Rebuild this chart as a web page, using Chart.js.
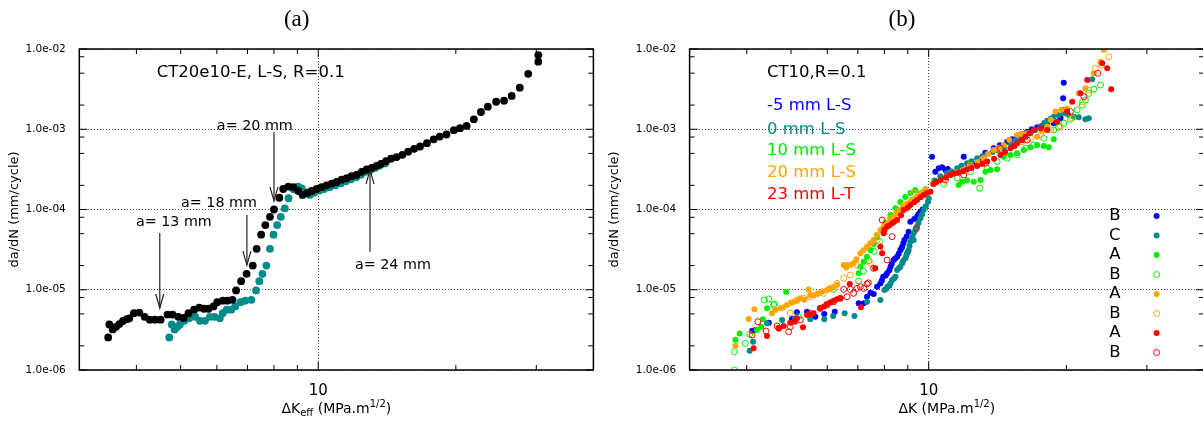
<!DOCTYPE html>
<html>
<head>
<meta charset="utf-8">
<script src="https://cdn.jsdelivr.net/npm/chart.js@4.4.1/dist/chart.umd.min.js"></script>
<style>
  html, body { margin: 0; padding: 0; background: #fff; overflow: hidden; width: 1203px; height: 421px; }
  #ca { position: absolute; left: 0; top: 0; }
  #cb { position: absolute; left: 600px; top: 0; }
</style>
</head>
<body>
<canvas id="ca" width="600" height="421"></canvas>
<canvas id="cb" width="620" height="421"></canvas>
<script>
// axis ticks
const X_TICKS = [10];
const X_MINOR = [4, 5, 6, 7, 8, 9, 20, 30];
const Y_TICKS = [1e-6, 1e-5, 1e-4, 1e-3, 1e-2];
const Y_MINOR = [2, 5, 8];

// panel (a): [dK_eff, da/dN]
const ptsBlack = [[3.47,2.55e-6],[3.49,3.7e-6],[3.55,3.2e-6],[3.61,3.45e-6],[3.67,3.73e-6],[3.74,4.08e-6],[3.81,4.3e-6],[3.86,4.4e-6],
  [3.95,5.1e-6],[4.06,5.2e-6],[4.17,4.6e-6],[4.28,4.24e-6],[4.39,4.24e-6],[4.52,4.24e-6],[4.68,4.9e-6],[4.80,4.9e-6],[4.94,4.6e-6],
  [5.08,4.45e-6],[5.20,5.1e-6],[5.35,5.65e-6],[5.49,6.0e-6],[5.62,5.8e-6],[5.75,5.8e-6],[5.90,6.2e-6],[6.01,7.0e-6],[6.18,7.3e-6],
  [6.33,7.3e-6],[6.49,7.5e-6],[6.61,9.8e-6],[6.78,1.28e-5],[6.97,1.58e-5],[7.19,2.0e-5],[7.33,3.24e-5],[7.50,4.85e-5],[7.66,6.4e-5],
  [7.84,8.1e-5],[8.00,1.0e-4],[8.22,1.4e-4],[8.38,1.8e-4],[8.60,1.93e-4],[8.82,1.9e-4],[9.04,1.7e-4],[9.24,1.52e-4],[9.46,1.6e-4],
  [9.67,1.7e-4],[9.92,1.8e-4],[10.17,1.9e-4],[10.43,2.0e-4],[10.70,2.1e-4],[10.97,2.2e-4],[11.25,2.35e-4],[11.54,2.45e-4],[11.83,2.6e-4],
  [12.13,2.7e-4],[12.44,2.95e-4],[12.76,3.15e-4],[13.09,3.3e-4],[13.42,3.5e-4],[13.72,3.7e-4],[14.07,4.0e-4],[14.43,4.3e-4],[14.84,4.5e-4],
  [15.28,4.8e-4],[15.73,5.25e-4],[16.21,5.7e-4],[16.70,6.1e-4],[17.29,6.7e-4],[17.89,7.5e-4],[18.44,8.1e-4],[19.08,8.6e-4],[19.80,9.75e-4],
  [20.42,1.03e-3],[21.12,1.1e-3],[21.9,1.33e-3],[22.7,1.64e-3],[23.5,1.91e-3],[24.5,2.2e-3],[25.5,2.27e-3],[26.5,2.6e-3],[27.6,3.3e-3],
  [28.8,4.9e-3],[30.3,6.95e-3],[30.3,8.4e-3]];
const ptsTealA = [[4.72,2.55e-6],[4.78,3.7e-6],[4.85,3.2e-6],[4.92,3.45e-6],[4.98,3.7e-6],[5.09,4.1e-6],[5.22,4.4e-6],[5.38,4.6e-6],
  [5.51,4.1e-6],[5.65,4.1e-6],[5.79,4.6e-6],[5.93,4.6e-6],[6.09,4.4e-6],[6.18,5.1e-6],[6.30,5.65e-6],[6.45,5.65e-6],[6.58,6.2e-6],
  [6.76,7.0e-6],[6.92,7.3e-6],[7.14,7.5e-6],[7.31,9.8e-6],[7.43,1.28e-5],[7.55,1.58e-5],[7.70,2.0e-5],[7.84,3.24e-5],[7.98,4.85e-5],
  [8.13,6.4e-5],[8.28,8.1e-5],[8.45,1.03e-4],[8.61,1.38e-4],[8.82,1.8e-4],[9.04,1.93e-4],[9.2,1.83e-4],[9.4,1.63e-4],[9.59,1.52e-4],
  [9.8,1.62e-4],[10.05,1.72e-4],[10.3,1.8e-4],[10.6,1.9e-4],[10.9,2.0e-4],[11.2,2.12e-4],[11.5,2.25e-4],[11.8,2.38e-4],[12.1,2.52e-4],
  [12.4,2.72e-4],[12.7,2.95e-4],[13.0,3.1e-4],[13.3,3.3e-4],[13.6,3.5e-4],[14.0,3.75e-4]];

// panel (b): [dK, da/dN]
const ptsBlue = [[4.11,3.09e-6],[4.18,3.15e-6],[4.47,3.88e-6],[5.02,4.32e-6],[5.15,5.24e-6],[5.42,5.33e-6],[5.65,4.62e-6],[5.91,4.99e-6],
  [6.23,5.33e-6],[7.03,6.78e-6],[7.21,6.78e-6],[7.33,8.19e-6],[7.46,9.18e-6],[7.58,8.85e-6],[7.71,1.09e-5],[7.84,1.2e-5],[7.9,1.3e-5],
  [7.95,1.45e-5],[8.05,1.5e-5],[8.11,1.6e-5],[8.2,1.75e-5],[8.25,1.94e-5],[8.3,2.1e-5],[8.38,2.35e-5],[8.45,2.45e-5],[8.53,2.58e-5],
  [8.6,2.8e-5],[8.67,3.13e-5],[8.72,3.3e-5],[8.75,3.44e-5],[8.8,3.8e-5],[8.85,4.17e-5],[8.95,4.6e-5],[9.04,5.29e-5],[9.12,7.05e-5],
  [9.3,7.6e-5],[9.43,8.13e-5],[9.5,8.7e-5],[9.59,9.4e-5],[9.7,1.0e-4],[10.17,4.55e-4],[10.34,2.96e-4],[10.52,3.26e-4],[10.70,3.36e-4],
  [10.88,3.1e-4],[11.0,3.2e-4],[11.93,4.55e-4],[12.45,3.77e-4],[12.87,3.95e-4],[13.3,5.1e-4],[13.88,5.79e-4],[14.3,6.3e-4],[14.85,7.0e-4],
  [15.2,7.5e-4],[15.61,8.07e-4],[16.0,8.7e-4],[16.42,9.31e-4],[16.8,1.0e-3],[17.27,1.06e-3],[17.7,1.1e-3],[18.16,1.13e-3],
  [18.77,1.19e-3],[19.42,1.37e-3],[19.74,1.74e-3],[19.68,2.43e-3],[19.74,3.8e-3]];
const ptsTeal = [[4.06,1.74e-6],[4.13,2.25e-6],[4.43,3.82e-6],[4.78,4.2e-6],[5.11,4.41e-6],[5.51,4.28e-6],[5.91,4.28e-6],[6.18,4.71e-6],
  [6.55,5.08e-6],[6.88,4.71e-6],[7.33,7.1e-6],[7.84,7.45e-6],[8.00,9.93e-6],[8.08,1.03e-5],[8.13,1.09e-5],[8.2,1.12e-5],[8.25,1.2e-5],
  [8.32,1.32e-5],[8.4,1.38e-5],[8.46,1.45e-5],[8.53,1.76e-5],[8.6,1.85e-5],[8.67,1.94e-5],[8.75,2.14e-5],[8.8,2.3e-5],[8.89,2.47e-5],
  [8.93,2.65e-5],[8.97,2.85e-5],[9.0,2.95e-5],[9.04,3.13e-5],[9.08,3.5e-5],[9.12,3.97e-5],[9.2,4.5e-5],[9.27,4.17e-5],[9.27,5.05e-5],
  [9.35,5.5e-5],[9.43,6.1e-5],[9.5,6.8e-5],[9.59,7.76e-5],[9.67,8.7e-5],[9.75,9.86e-5],[9.85,1.1e-4],[9.97,1.25e-4],[10.0,1.38e-4],
  [10.3,2.3e-4],[10.6,2.6e-4],[10.97,2.83e-4],[11.2,3.0e-4],[11.54,3.26e-4],[11.8,3.5e-4],[12.13,3.77e-4],[12.4,4.0e-4],[12.76,4.35e-4],
  [13.1,4.6e-4],[13.42,4.92e-4],[13.8,5.2e-4],[14.11,5.51e-4],[14.6,6.0e-4],[15.10,6.68e-4],[15.5,7.2e-4],[15.87,7.71e-4],[16.3,8.3e-4],
  [16.70,8.91e-4],[17.1,9.8e-4],[17.56,1.08e-3],[17.9,1.2e-3],[18.16,1.28e-3],[18.5,1.35e-3],[18.77,1.43e-3],[19.2,1.5e-3],
  [19.74,1.58e-3],[20.2,1.52e-3],[20.77,1.43e-3],[21.29,1.41e-3],[22.02,1.33e-3],[22.39,1.37e-3],[22.78,4.19e-3]];
const ptsGreenA = [[3.78,2.38e-6],[3.86,2.86e-6],[4.21,3.15e-6],[4.30,3.47e-6],[4.34,4.28e-6],[4.43,5.87e-6],[4.88,9.46e-6],[7.03,1.6e-5],
  [7.09,1.94e-5],[7.21,2.24e-5],[7.33,2.58e-5],[7.46,3.13e-5],[7.58,3.72e-5],[7.72,4.54e-5],[7.88,5.56e-5],[8.04,6.79e-5],[8.25,8.53e-5],
  [8.46,1.04e-4],[8.67,1.24e-4],[8.89,1.43e-4],[9.12,1.61e-4],[9.35,1.75e-4],[9.83,1.79e-4],[11.63,2.02e-4],[11.83,2.22e-4],[12.13,2.29e-4],
  [12.55,2.22e-4],[12.98,2.33e-4],[13.31,2.96e-4],[13.65,3.1e-4],[14.11,3.17e-4],[14.59,4.55e-4],[15.10,4.78e-4],[15.61,5.01e-4],
  [16.14,5.51e-4],[16.70,5.96e-4],[17.27,6.37e-4],[17.85,6.18e-4],[18.31,5.96e-4],[18.77,7.5e-4]];
const ptsGreenB = [[3.76,1.0e-6],[3.76,1.69e-6],[3.97,2.15e-6],[4.06,2.79e-6],[4.37,7.45e-6],[4.47,7.68e-6],[4.58,6.46e-6],[4.60,6.64e-6],
  [5.19,4.62e-6],[6.18,1.01e-5],[7.03,1.29e-5],[7.2,1.7e-5],[7.4,2.3e-5],[7.6,3.0e-5],[7.8,4.0e-5],[8.0,5.2e-5],[8.3,6.8e-5],[8.6,8.5e-5],
  [8.9,1.05e-4],[9.2,1.3e-4],[9.5,1.5e-4],[10.78,2.08e-4],[11.54,2.47e-4],[12.34,2.96e-4],[12.93,1.84e-4],[13.42,3.26e-4],[14.11,3.95e-4],
  [14.85,4.35e-4],[15.61,4.78e-4],[16.28,5.79e-4],[16.97,6.37e-4],[17.85,7.71e-4],[18.77,9.79e-4],[19.25,1.06e-3],[19.74,1.19e-3],
  [20.42,1.33e-3],[21.12,1.74e-3],[21.67,2.0e-3],[22.02,2.31e-3],[22.39,2.8e-3],[22.96,3.15e-3],[23.75,3.56e-3]];
const ptsOrangeA = [[3.78,2.01e-6],[4.04,4.32e-6],[4.16,5.7e-6],[4.54,5.09e-6],[4.62,5.6e-6],[4.74,5.87e-6],[4.8,6.0e-6],[4.90,6.46e-6],
  [5.0,6.9e-6],[5.07,7.1e-6],[5.15,7.3e-6],[5.24,7.82e-6],[5.35,7.5e-6],[5.46,1.01e-5],[5.51,8.61e-6],[5.6,8.5e-6],[5.74,9.03e-6],
  [5.85,9.5e-6],[5.99,9.93e-6],[6.1,1.05e-5],[6.19,1.08e-5],[6.30,1.15e-5],[6.52,2.03e-5],[6.6,1.9e-5],[6.63,2.03e-5],[6.75,2.05e-5],
  [6.85,2.14e-5],[6.95,2.4e-5],[7.09,2.85e-5],[7.2,3.1e-5],[7.33,3.44e-5],[7.45,3.8e-5],[7.58,4.17e-5],[7.7,4.8e-5],[7.84,5.56e-5],
  [7.97,6.1e-5],[8.11,6.73e-5],[8.25,7.4e-5],[8.38,8.13e-5],[8.5,8.9e-5],[8.67,9.86e-5],[8.8,1.1e-4],[8.97,1.19e-4],[9.15,1.28e-4],
  [9.35,1.38e-4],[9.45,1.45e-4],[9.59,1.59e-4],[9.7,1.65e-4],[9.83,1.75e-4],[10.2,2.1e-4],[10.9,2.5e-4],[11.2,2.7e-4],[11.5,2.9e-4],
  [11.9,3.1e-4],[12.34,3.41e-4],[12.8,3.9e-4],[13.19,4.35e-4],[13.5,4.9e-4],[13.88,5.51e-4],[14.2,5.9e-4],[14.59,6.37e-4],[15.0,7.4e-4],
  [15.61,8.47e-4],[16.0,8.7e-4],[16.42,8.91e-4],[17.27,8.07e-4],[17.7,9.5e-4],[18.16,1.08e-3],[18.5,1.3e-3],[18.93,1.66e-3],
  [19.5,1.75e-3],[20.08,1.82e-3],[21.29,2.81e-3],[22.02,3.24e-3],[22.96,4.98e-3],[23.75,6.95e-3],[24.15,9.7e-3]];
const ptsOrangeB = [[4.98,5.13e-6],[5.15,7.45e-6],[5.33,7.82e-6],[5.51,8.19e-6],[5.70,8.85e-6],[5.89,9.03e-6],[6.09,1.04e-5],[6.30,1.2e-5],
  [6.52,1.39e-5],[6.74,1.53e-5],[6.97,2.03e-5],[7.46,2.14e-5],[7.71,4.17e-5],[7.97,5.83e-5],[8.25,7.76e-5],[8.53,9.4e-5],[8.82,1.14e-4],
  [9.27,1.59e-4],[12.34,3.58e-4],[13.09,4.14e-4],[14.35,5.51e-4],[16.01,7.0e-4],[16.70,7.71e-4],[17.56,8.47e-4],[18.46,9.79e-4],
  [19.42,1.1e-3],[20.63,1.38e-3],[21.67,2.2e-3],[22.39,3.08e-3],[23.16,5.74e-3],[23.87,6.3e-3],[24.77,8.0e-3]];
const ptsRedA = [[4.14,1.86e-6],[4.43,2.66e-6],[4.70,3.31e-6],[4.82,3.53e-6],[4.98,3.88e-6],[5.1,4.0e-6],[5.15,4.41e-6],[5.31,3.4e-6],
  [5.42,4.84e-6],[5.5,4.9e-6],[5.60,5.09e-6],[5.79,5.87e-6],[5.9,6.2e-6],[5.99,6.64e-6],[6.1,7.0e-6],[6.20,7.31e-6],[6.3,7.6e-6],
  [6.41,7.82e-6],[6.72,1.18e-5],[7.11,6.04e-6],[7.64,1.85e-5],[7.91,2.85e-5],[7.84,3.44e-5],[7.97,5.05e-5],[8.0,5.6e-5],[8.11,6.1e-5],
  [8.2,6.3e-5],[8.32,6.73e-5],[8.4,7.0e-5],[8.53,7.4e-5],[8.7,8.5e-5],[8.82,9.86e-5],[9.0,1.05e-4],[9.12,1.14e-4],[9.3,1.23e-4],
  [9.43,1.31e-4],[9.6,1.42e-4],[9.75,1.52e-4],[9.9,1.6e-4],[10.09,1.67e-4],[10.25,2.08e-4],[10.4,2.2e-4],[10.61,2.33e-4],[10.9,2.5e-4],
  [11.16,2.69e-4],[11.4,2.8e-4],[11.63,2.88e-4],[11.9,3.0e-4],[12.13,3.17e-4],[12.4,3.3e-4],[12.76,3.48e-4],[13.1,3.7e-4],[13.42,3.95e-4],
  [13.9,4.3e-4],[14.35,4.78e-4],[14.7,5.2e-4],[15.10,5.79e-4],[15.4,6.2e-4],[15.61,6.68e-4],[16.0,7.3e-4],[16.28,8.07e-4],[16.6,8.9e-4],
  [16.97,9.79e-4],[17.56,1.03e-3],[18.16,9.79e-4],[19.10,1.24e-3],[20.08,1.66e-3],[20.60,2.2e-3],[21.48,2.8e-3],[22.21,4.11e-3],
  [23.95,6.64e-3],[24.57,5.75e-3],[25.07,3.15e-3]];
const ptsRedB = [[4.11,2.73e-6],[4.23,4.0e-6],[4.41,3.06e-6],[4.66,3.53e-6],[4.70,3.31e-6],[4.94,3.0e-6],[4.98,3.47e-6],[5.24,4.2e-6],
  [5.51,5.09e-6],[5.79,5.87e-6],[5.99,6.46e-6],[6.20,7.1e-6],[6.41,7.82e-6],[6.52,1.01e-5],[6.63,8.19e-6],[6.74,1.01e-5],[6.85,9.03e-6],
  [6.97,1.04e-5],[7.09,1.09e-5],[7.21,1.04e-5],[7.33,1.18e-5],[7.38,1.22e-5],[7.58,1.85e-5],[8.11,2.35e-5],[8.32,4.58e-5],[7.91,7.4e-5],
  [9.4,5.83e-5],[10.88,2.33e-4],[11.93,2.69e-4],[13.31,3.77e-4],[14.35,5.79e-4],[16.42,7.35e-4],[20.42,1.66e-3],[21.84,2.55e-3],
  [23.43,4.98e-3]];

const FONT = 'DejaVu Sans';
const BLUE = '#0000ff', TEAL = '#008b8b', GREEN = '#00ee00', ORANGE = '#ffa500', RED = '#ff0000';

function fmtExp(v) {
  const e = Math.round(Math.log10(v));
  return '1.0e' + (e < 0 ? '-' : '+') + String(Math.abs(e)).padStart(2, '0');
}

function dots(label, pts, color, open, r, order) {
  return {
    label: label,
    data: pts.map(p => ({ x: p[0], y: p[1] })),
    pointStyle: 'circle',
    pointRadius: r,
    pointHoverRadius: r,
    backgroundColor: open ? 'rgba(0,0,0,0)' : color,
    borderColor: color,
    borderWidth: open ? 1 : 0,
    showLine: false,
    order: order
  };
}

function arrow(ctx, x0, y0, x1, y1) {
  ctx.beginPath(); ctx.moveTo(x0, y0); ctx.lineTo(x1, y1); ctx.stroke();
  const ang = Math.atan2(y1 - y0, x1 - x0), L = 14, W = 4;
  const bx = x1 - L * Math.cos(ang), by = y1 - L * Math.sin(ang);
  const nx = -Math.sin(ang) * W, ny = Math.cos(ang) * W;
  ctx.beginPath(); ctx.moveTo(bx + nx, by + ny); ctx.lineTo(x1, y1); ctx.lineTo(bx - nx, by - ny); ctx.stroke();
}

// frame, mirrored ticks, annotations and the x title with sub/superscript
const decor = {
  id: 'decor',
  afterDraw(chart, args, opts) {
    const { ctx, chartArea: a, scales: { x, y } } = chart;
    ctx.save();
    ctx.strokeStyle = '#000';
    ctx.lineWidth = 1;
    const tick = (px, py, dx, dy) => { ctx.beginPath(); ctx.moveTo(px, py); ctx.lineTo(px + dx, py + dy); ctx.stroke(); };
    Y_TICKS.forEach(v => {
      const p = y.getPixelForValue(v);
      tick(a.left, p, 8, 0); tick(a.right, p, -8, 0);
      if (v < 1e-2) Y_MINOR.forEach(m => {
        const q = y.getPixelForValue(m * v);
        tick(a.left, q, 5, 0); tick(a.right, q, -5, 0);
      });
    });
    X_TICKS.forEach(v => { const p = x.getPixelForValue(v); tick(p, a.bottom, 0, -8); tick(p, a.top, 0, 8); });
    X_MINOR.forEach(v => { const p = x.getPixelForValue(v); tick(p, a.bottom, 0, -5); tick(p, a.top, 0, 5); });
    ctx.lineWidth = 1.5;
    ctx.strokeRect(a.left, a.top, a.right - a.left, a.bottom - a.top);

    // text notes
    ctx.textBaseline = 'middle';
    ctx.textAlign = 'left';
    (opts.notes || []).forEach(n => {
      ctx.font = n.size + 'px "' + FONT + '"';
      ctx.fillStyle = n.color || '#000';
      ctx.fillText(n.text, x.getPixelForValue(n.x), y.getPixelForValue(n.y));
    });

    // arrows
    ctx.strokeStyle = '#222';
    ctx.lineWidth = 1.2;
    (opts.arrows || []).forEach(r => {
      arrow(ctx, x.getPixelForValue(r[0]), y.getPixelForValue(r[1]), x.getPixelForValue(r[2]), y.getPixelForValue(r[3]));
    });

    // key
    if (opts.keys) {
      ctx.font = '16.5px "' + FONT + '"';
      ctx.textAlign = 'right';
      chart.data.datasets.forEach((ds, i) => {
        const ky = a.top + 167 + i * 19.5;
        ctx.fillStyle = '#000';
        ctx.fillText(ds.label, a.left + 431, ky);
        ctx.beginPath();
        ctx.arc(a.left + 467, ky, ds.pointRadius, 0, Math.PI * 2);
        if (ds.borderWidth > 0) { ctx.strokeStyle = ds.borderColor; ctx.lineWidth = 1; ctx.stroke(); }
        else { ctx.fillStyle = ds.backgroundColor; ctx.fill(); }
      });
    }

    // x axis title
    const parts = opts.xTitle || [];
    let w = 0;
    parts.forEach(p => { ctx.font = p.size + 'px "' + FONT + '"'; p.w = ctx.measureText(p.t).width; w += p.w; });
    let cx = (a.left + a.right) / 2 - w / 2;
    ctx.textAlign = 'left';
    ctx.textBaseline = 'alphabetic';
    ctx.fillStyle = '#000';
    parts.forEach(p => { ctx.font = p.size + 'px "' + FONT + '"'; ctx.fillText(p.t, cx, 413 + (p.dy || 0)); cx += p.w; });
    ctx.restore();
  }
};

function makeChart(id, cfg) {
  return new Chart(document.getElementById(id), {
    type: 'scatter',
    data: { datasets: cfg.datasets },
    options: {
      responsive: false,
      animation: false,
      events: [],
      layout: { padding: { left: 0, right: cfg.padRight, top: 0, bottom: 0 } },
      plugins: {
        legend: { display: false },
        tooltip: { enabled: false },
        title: {
          display: true,
          text: cfg.title,
          color: '#000',
          font: { family: 'Liberation Serif', size: 23, weight: 'normal' },
          padding: { top: 6, bottom: 15.4 }
        },
        decor: { notes: cfg.notes, arrows: cfg.arrows, keys: cfg.keys, xTitle: cfg.xTitle }
      },
      scales: {
        x: {
          type: 'logarithmic',
          min: 3,
          max: 40,
          afterBuildTicks: s => { s.ticks = X_TICKS.map(v => ({ value: v })); },
          afterFit: s => { s.height = 51; },
          ticks: { callback: v => String(v), color: '#000', font: { family: FONT, size: 15 }, padding: 12, maxRotation: 0, autoSkip: false },
          grid: { color: '#444', lineWidth: 1, drawTicks: false },
          border: { display: false, dash: [1, 2] }
        },
        y: {
          type: 'logarithmic',
          min: 1e-6,
          max: 1e-2,
          afterBuildTicks: s => { s.ticks = Y_TICKS.map(v => ({ value: v })); },
          afterFit: s => { s.width = cfg.yWidth; },
          ticks: { callback: v => fmtExp(v), color: '#000', font: { family: FONT, size: 10.5 }, padding: 13.5, autoSkip: false },
          grid: { color: '#444', lineWidth: 1, drawTicks: false },
          border: { display: false, dash: [1, 2] },
          title: { display: true, text: 'da/dN (mm/cycle)', color: '#000', font: { family: FONT, size: 13 }, padding: { top: 7, bottom: 0 } }
        }
      }
    },
    plugins: [decor]
  });
}

makeChart('ca', {
  title: '(a)',
  yWidth: 79.3,
  padRight: 6.6,
  datasets: [
    dots('black', ptsBlack, '#000000', false, 3.9, 1),
    dots('teal', ptsTealA, TEAL, false, 3.9, 2)
  ],
  notes: [
    { text: 'CT20e10-E, L-S, R=0.1', x: 4.43, y: 5.0e-3, size: 16.5 },
    { text: 'a= 20 mm', x: 6.0, y: 1.08e-3, size: 14.3 },
    { text: 'a= 18 mm', x: 5.01, y: 1.19e-4, size: 14.3 },
    { text: 'a= 13 mm', x: 3.99, y: 6.84e-5, size: 14.3 },
    { text: 'a= 24 mm', x: 12.03, y: 2.03e-5, size: 14.3 }
  ],
  arrows: [
    [4.50, 5.09e-5, 4.50, 5.93e-6],
    [6.98, 8.53e-5, 6.98, 2.03e-5],
    [8.0, 9.25e-4, 8.0, 1.28e-4],
    [12.98, 2.98e-5, 12.98, 3.1e-4]
  ],
  xTitle: [
    { t: '\u0394K', size: 14 },
    { t: 'eff', size: 10, dy: 3 },
    { t: ' (MPa.m', size: 14 },
    { t: '1/2', size: 10, dy: -6.5 },
    { t: ')', size: 14 }
  ]
});

makeChart('cb', {
  title: '(b)',
  yWidth: 89.6,
  padRight: 16,
  keys: true,
  datasets: [
    dots('B', ptsBlue, BLUE, false, 3, 8),
    dots('C', ptsTeal, TEAL, false, 3, 7),
    dots('A', ptsGreenA, GREEN, false, 3, 6),
    dots('B', ptsGreenB, GREEN, true, 3, 5),
    dots('A', ptsOrangeA, ORANGE, false, 3, 4),
    dots('B', ptsOrangeB, ORANGE, true, 3, 3),
    dots('A', ptsRedA, RED, false, 3, 2),
    dots('B', ptsRedB, RED, true, 3, 1)
  ],
  notes: [
    { text: 'CT10,R=0.1', x: 4.43, y: 5.0e-3, size: 16.5 },
    { text: '-5 mm L-S', x: 4.43, y: 1.95e-3, size: 16.5, color: BLUE },
    { text: '0 mm L-S', x: 4.43, y: 1.0e-3, size: 16.5, color: TEAL },
    { text: '10 mm L-S', x: 4.43, y: 5.4e-4, size: 16.5, color: GREEN },
    { text: '20 mm L-S', x: 4.43, y: 2.88e-4, size: 16.5, color: ORANGE },
    { text: '23 mm L-T', x: 4.43, y: 1.52e-4, size: 16.5, color: RED }
  ],
  xTitle: [
    { t: '\u0394K (MPa.m', size: 14 },
    { t: '1/2', size: 10, dy: -6.5 },
    { t: ')', size: 14 }
  ]
});
</script>
</body>
</html>
